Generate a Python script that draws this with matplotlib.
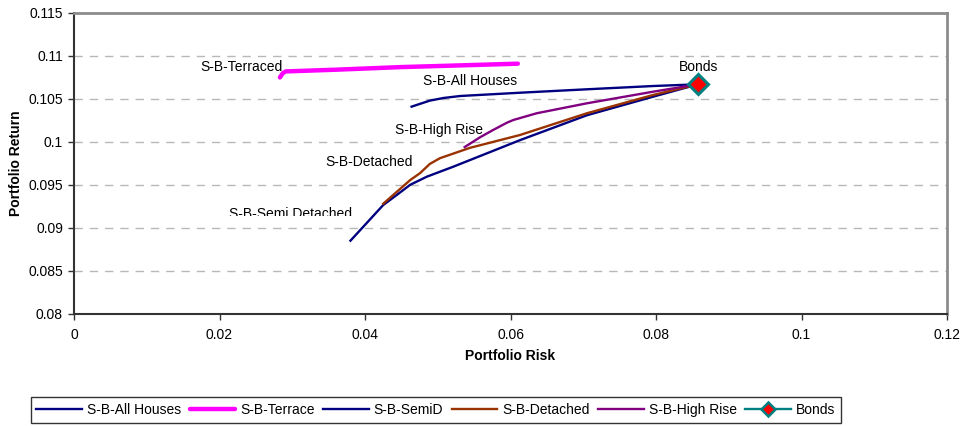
import matplotlib
matplotlib.use("Agg")
import matplotlib.pyplot as plt
from matplotlib.patches import Rectangle

plt.rcParams["font.family"] = ["Liberation Sans", "DejaVu Sans"]

# Efficient-frontier style risk/return curves (risk, return)
all_houses_risk = [0.0464, 0.0489, 0.0508, 0.0531, 0.0613, 0.0705, 0.0796, 0.0858]
all_houses_ret = [0.1041, 0.1048, 0.10511, 0.10534, 0.10572, 0.10612, 0.1065, 0.1067]

terrace_risk = [0.0283, 0.0287, 0.0291, 0.0360, 0.0448, 0.0530, 0.0610]
terrace_ret = [0.1075, 0.1080, 0.1082, 0.1084, 0.1087, 0.1089, 0.1091]

semid_risk = [0.0380, 0.0425, 0.04436, 0.0462, 0.0485, 0.0521, 0.0613, 0.0705, 0.0796, 0.0858]
semid_ret = [0.0885, 0.09265, 0.09382, 0.0950, 0.09595, 0.0971, 0.1002, 0.1031, 0.10526, 0.1067]

detached_risk = [0.0425, 0.0462, 0.04756, 0.0489, 0.0503, 0.0544, 0.0613, 0.0705, 0.0796, 0.0858]
detached_ret = [0.0928, 0.09555, 0.09636, 0.09743, 0.0981, 0.0993, 0.1008, 0.10333, 0.10546, 0.1067]

highrise_risk = [0.0537, 0.0558, 0.0576, 0.0595, 0.0604, 0.0636, 0.0705, 0.0796, 0.0858]
highrise_ret = [0.0994, 0.10053, 0.10138, 0.10223, 0.10255, 0.10333, 0.10449, 0.10584, 0.1067]

bonds_risk = [0.0858]
bonds_ret = [0.1067]

x_ticks = [0, 0.02, 0.04, 0.06, 0.08, 0.1, 0.12]
x_tick_labels = ["0", "0.02", "0.04", "0.06", "0.08", "0.1", "0.12"]
y_ticks = [0.08, 0.085, 0.09, 0.095, 0.1, 0.105, 0.11, 0.115]
y_tick_labels = ["0.08", "0.085", "0.09", "0.095", "0.1", "0.105", "0.11", "0.115"]

fig = plt.figure(figsize=(9.64, 4.26), dpi=100)
ax = fig.add_axes([0.0768, 0.2636, 0.9056, 0.7059])

ax.set_xlim(0, 0.12)
ax.set_ylim(0.08, 0.115)

# dashed horizontal gridlines at interior ticks only
for yv in y_ticks[1:-1]:
    ax.axhline(yv, color="#b8b8b8", lw=1.0, ls=(0, (6, 5)), zorder=0)

ax.plot(all_houses_risk, all_houses_ret, color="#000080", lw=1.7, label="S-B-All Houses")
ax.plot(terrace_risk, terrace_ret, color="#FF00FF", lw=3.2, label="S-B-Terrace",
        solid_capstyle="round")
ax.plot(semid_risk, semid_ret, color="#000080", lw=1.7, label="S-B-SemiD")
ax.plot(detached_risk, detached_ret, color="#993300", lw=1.7, label="S-B-Detached")
ax.plot(highrise_risk, highrise_ret, color="#800080", lw=1.7, label="S-B-High Rise")
ax.plot(bonds_risk, bonds_ret, color="#008080", lw=1.7, marker="D", markersize=10,
        markerfacecolor="#FF0000", markeredgecolor="#008080", markeredgewidth=2.2,
        label="Bonds", zorder=5)

# series labels
lbl = dict(fontsize=10, color="black")
ax.text(0.0287, 0.1087, "S-B-Terraced", ha="right", va="center", **lbl)
ax.text(0.0609, 0.1071, "S-B-All Houses", ha="right", va="center", **lbl)
ax.text(0.0562, 0.1014, "S-B-High Rise", ha="right", va="center", **lbl)
ax.text(0.0466, 0.0976, "S-B-Detached", ha="right", va="center", **lbl)
ax.text(0.0858, 0.1087, "Bonds", ha="center", va="center", **lbl)
semi = ax.text(0.0382, 0.0916, "S-B-Semi Detached", ha="right", va="center",
               clip_on=True, **lbl)
semi.set_clip_path(Rectangle((0, 0.09137), 0.12, 0.03, transform=ax.transData))

ax.set_xticks(x_ticks)
ax.set_xticklabels(x_tick_labels)
ax.set_yticks(y_ticks)
ax.set_yticklabels(y_tick_labels)
ax.tick_params(direction="out", length=4, width=1, labelsize=10, color="#333333")
ax.tick_params(axis="x", pad=6)
ax.tick_params(axis="y", pad=4)

ax.set_xlabel("Portfolio Risk", fontsize=10, fontweight="bold", labelpad=5)
ax.set_ylabel("Portfolio Return", fontsize=10, fontweight="bold", labelpad=4)

for side in ("left", "bottom"):
    ax.spines[side].set_color("#333333")
    ax.spines[side].set_linewidth(1.5)
for side in ("top", "right"):
    ax.spines[side].set_color("#8c8c8c")
    ax.spines[side].set_linewidth(2)

leg = fig.legend(loc="center", bbox_to_anchor=(0.452, 0.0376), ncol=6, fontsize=10,
                 frameon=True, fancybox=False, edgecolor="black", handlelength=3.3,
                 columnspacing=0.6, handletextpad=0.35, borderpad=0.4,
                 borderaxespad=0, shadow=False)
leg.get_frame().set_linewidth(1.0)
leg.legend_handles[5].set_markersize(7)
leg.legend_handles[5].set_markeredgewidth(1.8)

fig.savefig("out.png", dpi=100)
